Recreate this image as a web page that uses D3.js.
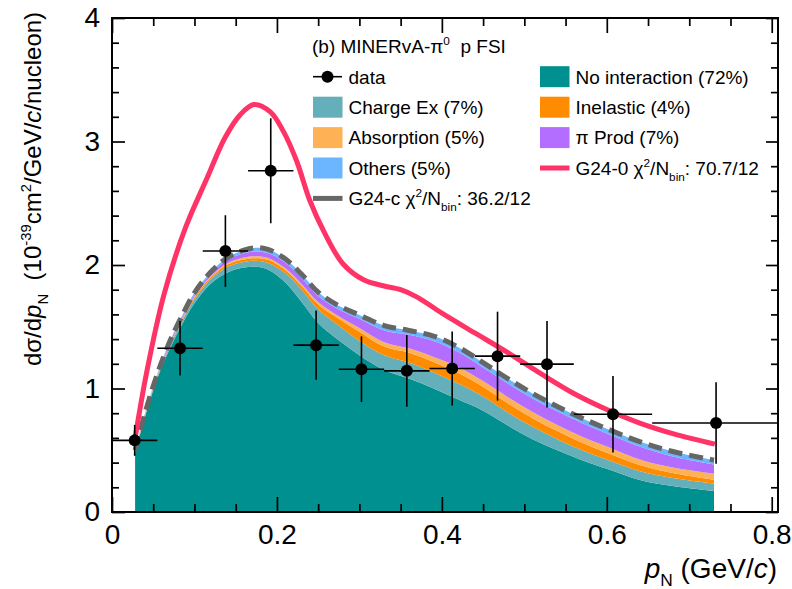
<!DOCTYPE html>
<html><head><meta charset="utf-8">
<script src="https://cdn.jsdelivr.net/npm/d3@7"></script>
<style>
body{margin:0;background:#fff}
svg{display:block}
text{font-family:"Liberation Sans",Arial,Helvetica,sans-serif;white-space:pre;fill:#000}
</style>
</head><body>
<svg id="c" width="792" height="589"></svg>
<script>
// ---------------- data ----------------
// sample positions of the G24-c prediction (GeV/c)
const xGrid = [0.028,0.04,0.055,0.07,0.085,0.10,0.12,0.14,0.16,0.175,0.19,0.21,0.23,0.25,0.275,0.30,0.33,0.36,0.39,0.42,0.45,0.48,0.51,0.54,0.57,0.60,0.64,0.68,0.73];
// stacked components (contribution of each FSI channel)
const noInteraction = [0.48,0.77,1.08,1.32,1.52,1.69,1.85,1.94,1.98,1.985,1.96,1.86,1.70,1.53,1.39,1.27,1.15,1.08,1.00,0.91,0.82,0.70,0.59,0.50,0.42,0.35,0.26,0.21,0.17];
const chargeEx      = [0.005,0.01,0.013,0.02,0.025,0.03,0.035,0.045,0.045,0.05,0.055,0.075,0.10,0.11,0.12,0.115,0.12,0.13,0.13,0.13,0.115,0.105,0.10,0.09,0.08,0.075,0.07,0.065,0.06];
const inelastic     = [0.003,0.005,0.007,0.01,0.01,0.015,0.015,0.02,0.02,0.02,0.025,0.025,0.03,0.04,0.055,0.075,0.07,0.08,0.085,0.085,0.08,0.075,0.07,0.065,0.06,0.055,0.05,0.04,0.03];
const absorption    = [0.002,0.005,0.005,0.005,0.007,0.008,0.01,0.01,0.015,0.015,0.015,0.015,0.015,0.02,0.02,0.03,0.035,0.035,0.04,0.05,0.045,0.05,0.05,0.05,0.05,0.05,0.045,0.045,0.05];
const piProd        = [0.005,0.005,0.007,0.015,0.016,0.017,0.02,0.025,0.035,0.04,0.04,0.045,0.05,0.05,0.055,0.075,0.095,0.11,0.13,0.12,0.11,0.11,0.11,0.11,0.11,0.105,0.105,0.09,0.075];
const others        = [0.005,0.005,0.008,0.01,0.012,0.015,0.015,0.02,0.025,0.03,0.03,0.03,0.03,0.03,0.03,0.03,0.04,0.035,0.04,0.04,0.04,0.04,0.04,0.04,0.04,0.04,0.04,0.04,0.035];

// G24-0 prediction
const g240X = [0.028,0.042,0.063,0.089,0.115,0.137,0.156,0.172,0.192,0.208,0.224,0.240,0.257,0.280,0.305,0.330,0.350,0.370,0.400,0.440,0.480,0.520,0.560,0.600,0.640,0.680,0.731];
const g240Y = [0.60,1.13,1.76,2.30,2.70,3.03,3.22,3.30,3.24,3.08,2.84,2.52,2.27,2.01,1.88,1.83,1.80,1.74,1.61,1.45,1.29,1.12,0.96,0.83,0.72,0.635,0.55];

// MINERvA data
const binLo   = [0,0.055,0.11,0.165,0.22,0.275,0.33,0.385,0.44,0.495,0.56,0.655];
const binHi   = [0.055,0.11,0.165,0.22,0.275,0.33,0.385,0.44,0.495,0.56,0.655,0.81];
const dataX   = [0.0275,0.0825,0.1375,0.1925,0.2475,0.3025,0.3575,0.4125,0.4675,0.5275,0.6075,0.7325];
const dataY   = [0.58,1.326,2.113,2.763,1.351,1.156,1.143,1.162,1.262,1.197,0.792,0.721];
const dataErr = [0.125,0.22,0.29,0.425,0.28,0.266,0.29,0.30,0.36,0.35,0.31,0.33];

const xTicks = [0,0.2,0.4,0.6,0.8];
const yTicks = [0,1,2,3,4];

const seriesNames = ["No interaction","Charge Ex","Inelastic","Absorption","π Prod","Others"];
const seriesValues = [noInteraction,chargeEx,inelastic,absorption,piProd,others];
const seriesColors = ["#009090","#64afb9","#ff8c00","#ffb155","#b36dff","#6cb6ff"];

// ---------------- layout ----------------
const svg = d3.select("#c");
const F = {l:112, r:778, t:18, b:512};
const x = d3.scaleLinear().domain([0,0.8076]).range([F.l,F.r]);
const y = d3.scaleLinear().domain([0,4]).range([F.b,F.t]);

svg.append("defs").append("clipPath").attr("id","fr")
  .append("rect").attr("x",F.l).attr("y",F.t).attr("width",F.r-F.l).attr("height",F.b-F.t);

// stacked areas
const rows = xGrid.map((xv,i)=>{const o={x:xv}; seriesNames.forEach((n,k)=>o[n]=seriesValues[k][i]); return o;});
const stack = d3.stack().keys(seriesNames)(rows);
const curve = d3.curveCatmullRom.alpha(0.5);
const area = d3.area().x(d=>x(d.data.x)).y0(d=>y(d[0])).y1(d=>y(d[1])).curve(curve);
const plot = svg.append("g").attr("clip-path","url(#fr)");
plot.selectAll("path.st").data(stack).join("path").attr("class","st")
  .attr("d",area).attr("fill",(d,i)=>seriesColors[i]).attr("stroke","none");

// G24-c total (dashed)
const totals = rows.map(r=>({x:r.x, v:d3.sum(seriesNames,n=>r[n])}));
plot.append("path").datum(totals)
  .attr("d",d3.line().x(d=>x(d.x)).y(d=>y(d.v)).curve(curve))
  .attr("fill","none").attr("stroke","#666666").attr("stroke-width",5).attr("stroke-dasharray","14,7");

// G24-0
plot.append("path").datum(g240X.map((xv,i)=>[xv,g240Y[i]]))
  .attr("d",d3.line().x(d=>x(d[0])).y(d=>y(d[1])).curve(curve))
  .attr("fill","none").attr("stroke","#ff3366").attr("stroke-width",5).attr("stroke-linejoin","round");

// data
const dg = plot.append("g");
dataX.forEach((xv,i)=>{
  dg.append("line").attr("x1",x(binLo[i])).attr("x2",x(binHi[i])).attr("y1",y(dataY[i])).attr("y2",y(dataY[i]))
    .attr("stroke","#000").attr("stroke-width",1.6);
  dg.append("line").attr("x1",x(xv)).attr("x2",x(xv)).attr("y1",y(dataY[i]-dataErr[i])).attr("y2",y(dataY[i]+dataErr[i]))
    .attr("stroke","#000").attr("stroke-width",1.6);
  dg.append("circle").attr("cx",x(xv)).attr("cy",y(dataY[i])).attr("r",6).attr("fill","#000");
});

// ---------------- axes ----------------
const xMinor = d3.range(0,0.8076,0.05).filter(v=>Math.abs(v/0.2-Math.round(v/0.2))>1e-6);
const yMinor = d3.range(0,4.0001,0.2).filter(v=>Math.abs(v-Math.round(v))>1e-6);
function styleAxis(g){ g.select(".domain").remove(); g.selectAll("line").attr("stroke","#000").attr("stroke-width",1.7); g.selectAll("text").attr("font-size",28).attr("font-family","Liberation Sans, Arial, sans-serif"); }
svg.append("g").attr("transform",`translate(0,${F.b})`).call(d3.axisBottom(x).tickValues(xTicks).tickSize(-15).tickPadding(12)).call(styleAxis)
   .selectAll("text").text(d=>d===0?"0":d3.format(".1f")(d));
svg.append("g").attr("transform",`translate(0,${F.b})`).call(d3.axisBottom(x).tickValues(xMinor).tickFormat("").tickSize(-8)).call(styleAxis);
svg.append("g").attr("transform",`translate(0,${F.t})`).call(d3.axisTop(x).tickValues(xTicks).tickFormat("").tickSize(-15)).call(styleAxis);
svg.append("g").attr("transform",`translate(0,${F.t})`).call(d3.axisTop(x).tickValues(xMinor).tickFormat("").tickSize(-8)).call(styleAxis);
svg.append("g").attr("transform",`translate(${F.l},0)`).call(d3.axisLeft(y).tickValues(yTicks).tickFormat(d3.format("d")).tickSize(-13).tickPadding(12)).call(styleAxis);
svg.append("g").attr("transform",`translate(${F.l},0)`).call(d3.axisLeft(y).tickValues(yMinor).tickFormat("").tickSize(-7)).call(styleAxis);
svg.append("g").attr("transform",`translate(${F.r},0)`).call(d3.axisRight(y).tickValues(yTicks).tickFormat("").tickSize(-12)).call(styleAxis);
svg.append("g").attr("transform",`translate(${F.r},0)`).call(d3.axisRight(y).tickValues(yMinor).tickFormat("").tickSize(-7)).call(styleAxis);
svg.append("rect").attr("x",F.l).attr("y",F.t).attr("width",F.r-F.l).attr("height",F.b-F.t)
  .attr("fill","none").attr("stroke","#000").attr("stroke-width",2);

// ---------------- rich text helper ----------------
function rich(t, parts, fs){
  let cur = 0;
  parts.forEach(([s,mode])=>{
    let shift=0, size=fs;
    if(mode==="sup"){shift=-0.42*fs; size=fs*0.62;}
    if(mode==="sub"||mode==="isub"){shift=0.3*fs; size=fs*0.62;}
    const ts=t.append("tspan").text(s).attr("font-size",size);
    if(shift-cur!==0) ts.attr("dy",shift-cur);
    if(mode==="i"||mode==="isub") ts.attr("font-style","italic");
    cur=shift;
  });
}

// axis titles
const yt = svg.append("text").attr("transform","translate(41,189) rotate(-90)").attr("text-anchor","middle").attr("font-size",24);
rich(yt,[["dσ/d","n"],["p","i"],["N","sub"],["  (10","n"],["-39","sup"],["cm","n"],["2","sup"],["/GeV/","n"],["c","i"],["/nucleon)","n"]],24);
const xt = svg.append("text").attr("x",777).attr("y",578).attr("text-anchor","end").attr("font-size",28);
rich(xt,[["p","i"],["N","sub"],[" (GeV/","n"],["c","i"],[")","n"]],28);

// ---------------- legend ----------------
const LF = 19;
const tt = svg.append("text").attr("x",312).attr("y",53).attr("font-size",LF);
rich(tt,[["(b) MINERvA-π","n"],["0","sup"],["  p FSI","n"]],LF);

const rowY = [76.7,107.2,137.6,168,198.4];
const colX = [313,540];
const txtOff = 35.5;
const lg = svg.append("g");
// data entry
lg.append("line").attr("x1",colX[0]).attr("x2",colX[0]+29).attr("y1",rowY[0]).attr("y2",rowY[0]).attr("stroke","#000").attr("stroke-width",1.6);
lg.append("circle").attr("cx",colX[0]+14.5).attr("cy",rowY[0]).attr("r",6).attr("fill","#000");
lg.append("text").attr("x",colX[0]+txtOff).attr("y",rowY[0]+6.8).attr("font-size",LF).text("data");
// boxes
const boxEntries = [
  {c:0,r:1,k:1,label:"Charge Ex (7%)"},
  {c:0,r:2,k:3,label:"Absorption (5%)"},
  {c:0,r:3,k:5,label:"Others (5%)"},
  {c:1,r:0,k:0,label:"No interaction (72%)"},
  {c:1,r:1,k:2,label:"Inelastic (4%)"},
  {c:1,r:2,k:4,label:"π Prod (7%)"}
];
boxEntries.forEach(e=>{
  lg.append("rect").attr("x",colX[e.c]).attr("y",rowY[e.r]-10.5).attr("width",29.5).attr("height",21).attr("fill",seriesColors[e.k]);
  lg.append("text").attr("x",colX[e.c]+txtOff).attr("y",rowY[e.r]+6.8).attr("font-size",LF).text(e.label);
});
// lines
lg.append("line").attr("x1",colX[1]).attr("x2",colX[1]+29.5).attr("y1",rowY[3]).attr("y2",rowY[3]).attr("stroke","#ff3366").attr("stroke-width",5);
const t1 = lg.append("text").attr("x",colX[1]+txtOff).attr("y",rowY[3]+6.8).attr("font-size",LF);
rich(t1,[["G24-0 χ","n"],["2","sup"],["/N","n"],["bin","sub"],[": 70.7/12","n"]],LF);
lg.append("line").attr("x1",colX[0]).attr("x2",colX[0]+29.5).attr("y1",rowY[4]).attr("y2",rowY[4]).attr("stroke","#666666").attr("stroke-width",5);
const t2 = lg.append("text").attr("x",colX[0]+txtOff).attr("y",rowY[4]+6.8).attr("font-size",LF);
rich(t2,[["G24-c χ","n"],["2","sup"],["/N","n"],["bin","sub"],[": 36.2/12","n"]],LF);
</script>
</body></html>
